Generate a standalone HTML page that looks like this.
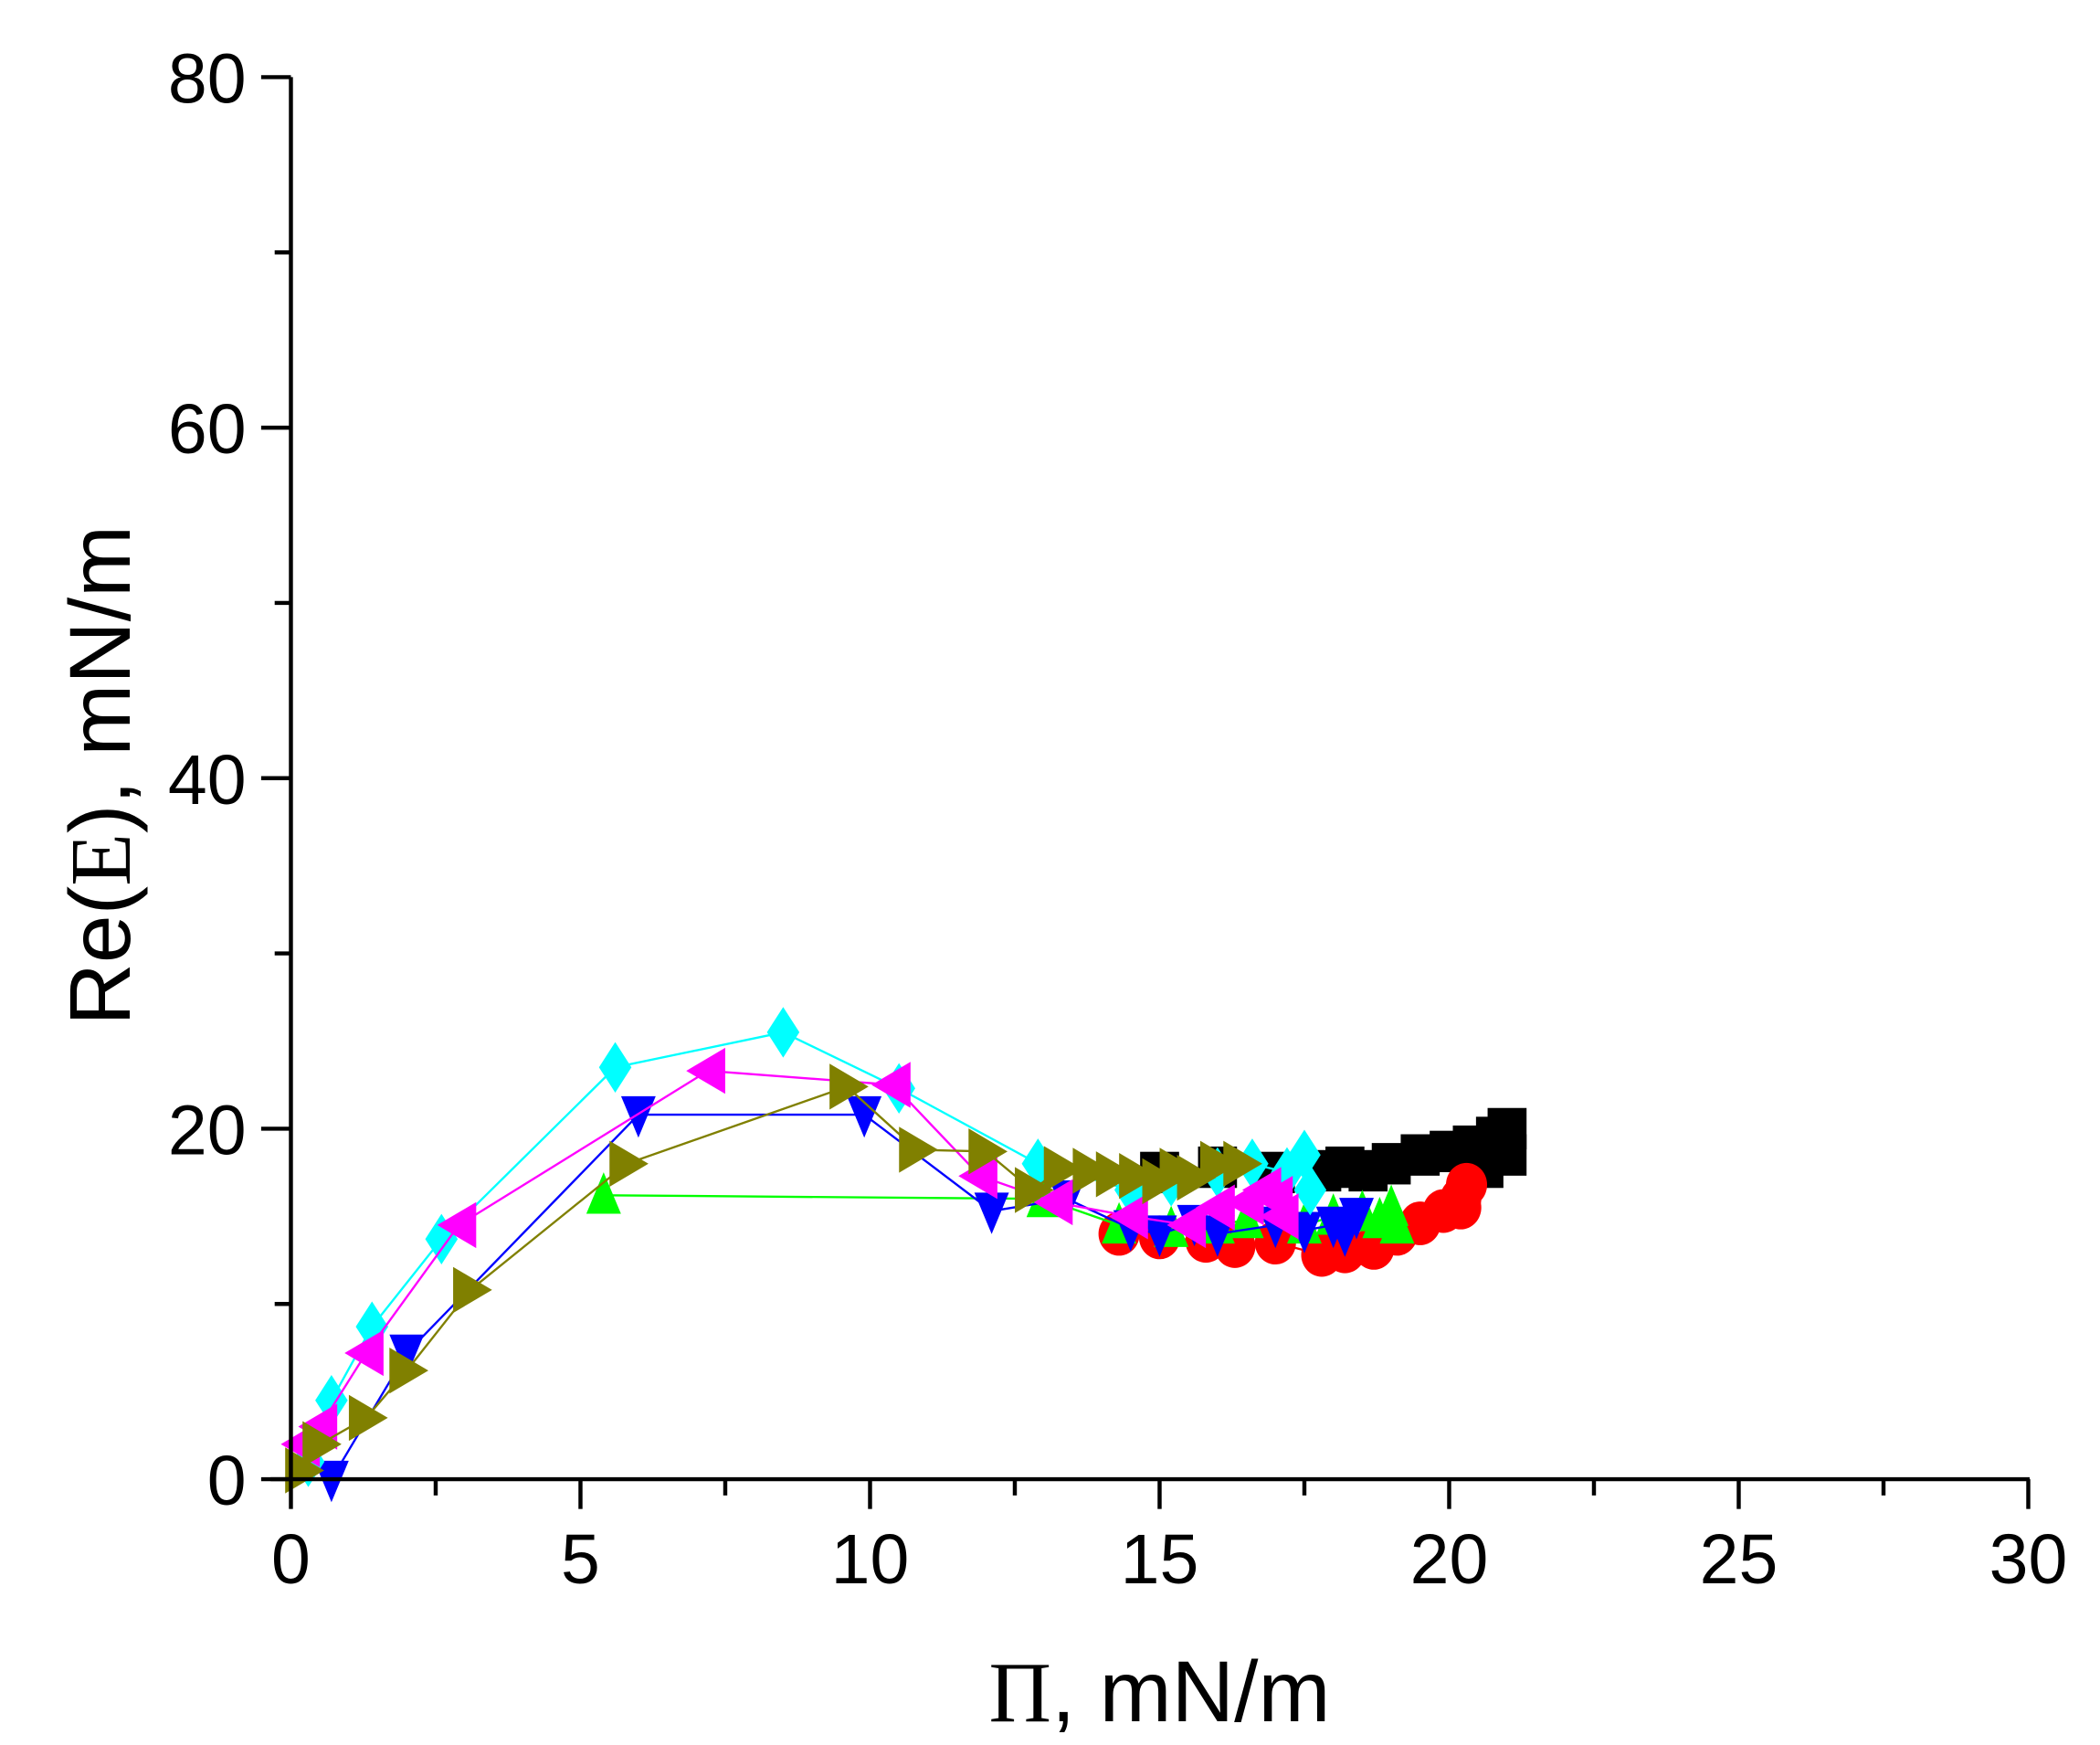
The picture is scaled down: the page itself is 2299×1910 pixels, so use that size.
<!DOCTYPE html>
<html><head><meta charset="utf-8"><style>html,body{margin:0;padding:0;background:#fff;}svg{display:block}</style></head>
<body>
<svg id="s" width="2299" height="1910" viewBox="0 0 1552 1289.4" preserveAspectRatio="none" xmlns="http://www.w3.org/2000/svg">
<rect width="1552" height="1290" fill="#fff"/>
<g id="data"></g>
<g stroke="#000" stroke-width="3" fill="none">
<line x1="215" y1="1093" x2="215" y2="57"/>
<line x1="200" y1="1093" x2="1500" y2="1093"/>
</g>
<g id="ticks" stroke="#000" stroke-width="3"></g>
<g font-family="Liberation Sans, Arial, sans-serif" font-size="52" fill="#000" id="labels"></g>
<text x="96" y="573" transform="rotate(-90 96 573)" text-anchor="middle" font-family="Liberation Sans, Arial, sans-serif" font-size="64">Re(<tspan font-family="Liberation Serif, serif">E</tspan>), mN/m</text>
<text x="857" y="1272" text-anchor="middle" font-family="Liberation Sans, Arial, sans-serif" font-size="64"><tspan font-family="Liberation Serif, serif">Π</tspan>, mN/m</text>
</svg>
<script>
var NS="http://www.w3.org/2000/svg";
function X(v){return 215+v*42.8;}function Y(v){return 1093-v*12.95;}
var t=document.getElementById('ticks'),L=document.getElementById('labels');
function ln(a,b,c,d){var l=document.createElementNS(NS,'line');l.setAttribute('x1',a);l.setAttribute('y1',b);l.setAttribute('x2',c);l.setAttribute('y2',d);t.appendChild(l);}
function tx(x,y,s,anc){var e=document.createElementNS(NS,'text');e.setAttribute('x',x);e.setAttribute('y',y);e.setAttribute('text-anchor',anc);e.textContent=s;L.appendChild(e);}
for(var v=0;v<=30;v+=2.5){var maj=(v%5==0);ln(X(v),1093,X(v),1093+(maj?22:12));if(maj)tx(X(v),1170,String(v),'middle');}
for(var v=0;v<=80;v+=10){var maj=(v%20==0);ln(215,Y(v),215-(maj?22:12),Y(v));if(maj)tx(182,Y(v)+19,String(v),'end');}
var D=document.getElementById('data');
var S=[
{c:'#000000',m:'sq',p:[[15,17.5],[16,17.8],[17,17.5],[17.8,17.6],[18.2,17.8],[18.6,17.6],[19,18],[19.5,18.5],[20,18.7],[20.4,19],[20.8,19.5],[21,20],[21,18.5],[20.6,17.8]]},
{c:'#ff0000',m:'ci',p:[[14.3,14],[15,13.8],[15.8,13.6],[16.3,13.3],[17,13.5],[17.8,12.8],[18.2,13],[18.7,13.2],[19.1,14],[19.5,14.6],[19.9,15.3],[20.2,16],[20.3,16.8],[20.2,15.5]]},
{c:'#00ff00',m:'ut',p:[[5.4,16.2],[13,16],[14.3,14.5],[15.2,14.3],[16,14.5],[16.5,14.8],[17.5,14.5],[18,15],[18.5,15.2],[18.8,14.8],[19,15.5],[19.1,14.5]]},
{c:'#0000ff',m:'dt',p:[[0.7,0],[2,7.2],[6,20.8],[9.9,20.8],[12.1,15.3],[13.4,16],[14.5,14.3],[15,14],[15.6,14.6],[16,14],[17,14.5],[17.5,14.2],[18,14.5],[18.2,14],[18.4,15]]},
{c:'#00ffff',m:'di',p:[[0.3,1],[0.7,4.5],[1.4,8.7],[2.6,13.7],[5.6,23.5],[8.5,25.5],[10.5,22.3],[12.9,18],[14.5,16.5],[15.2,17],[16,17.5],[16.6,18],[17.2,17.5],[17.5,18.5],[17.6,16.5]]},
{c:'#ff00ff',m:'lt',p:[[0.2,2],[0.5,3],[1.3,7.2],[2.9,14.5],[7.2,23.3],[10.4,22.5],[11.9,17.3],[13.2,15.8],[14.5,15],[15.5,14.5],[16,15.5],[16.5,15.8],[16.8,16.5],[17,16],[17.1,15]]},
{c:'#808000',m:'rt',p:[[0.2,0.5],[0.5,2],[1.3,3.5],[2,6.2],[3.1,10.8],[5.8,18],[9.6,22.4],[10.8,18.8],[12,18.7],[12.8,16.5],[13.3,17.7],[13.8,17.6],[14.2,17.4],[14.6,17.3],[15,17],[15.3,17.6],[15.6,17.2],[16,18],[16.4,18]]}
];
var rx=16,ry=17;
S.forEach(function(s){
 var pl=document.createElementNS(NS,'polyline');
 pl.setAttribute('points',s.p.map(function(q){return X(q[0])+','+Y(q[1]);}).join(' '));
 pl.setAttribute('fill','none');pl.setAttribute('stroke',s.c);pl.setAttribute('stroke-width','1.6');D.appendChild(pl);
 s.p.forEach(function(q){var x=X(q[0]),y=Y(q[1]),e;
  if(s.m=='ci'){e=document.createElementNS(NS,'ellipse');e.setAttribute('cx',x);e.setAttribute('cy',y);e.setAttribute('rx',rx*0.95);e.setAttribute('ry',ry*0.95);}
  else if(s.m=='sq'){e=document.createElementNS(NS,'rect');e.setAttribute('x',x-rx*0.9);e.setAttribute('y',y-ry*0.9);e.setAttribute('width',rx*1.8);e.setAttribute('height',ry*1.8);}
  else{var pts;
   if(s.m=='ut')pts=[[0,-ry],[rx*0.8,ry*0.8],[-rx*0.8,ry*0.8]];
   if(s.m=='dt')pts=[[0,ry],[rx*0.8,-ry*0.8],[-rx*0.8,-ry*0.8]];
   if(s.m=='lt')pts=[[-rx,0],[rx*0.8,-ry*1.0],[rx*0.8,ry*1.0]];
   if(s.m=='rt')pts=[[rx,0],[-rx*0.8,-ry*1.0],[-rx*0.8,ry*1.0]];
   if(s.m=='di')pts=[[0,-ry*1.1],[rx*0.75,0],[0,ry*1.1],[-rx*0.75,0]];
   e=document.createElementNS(NS,'polygon');e.setAttribute('points',pts.map(function(a){return (x+a[0])+','+(y+a[1]);}).join(' '));}
  e.setAttribute('fill',s.c);D.appendChild(e);});
});
</script>
</body></html>
